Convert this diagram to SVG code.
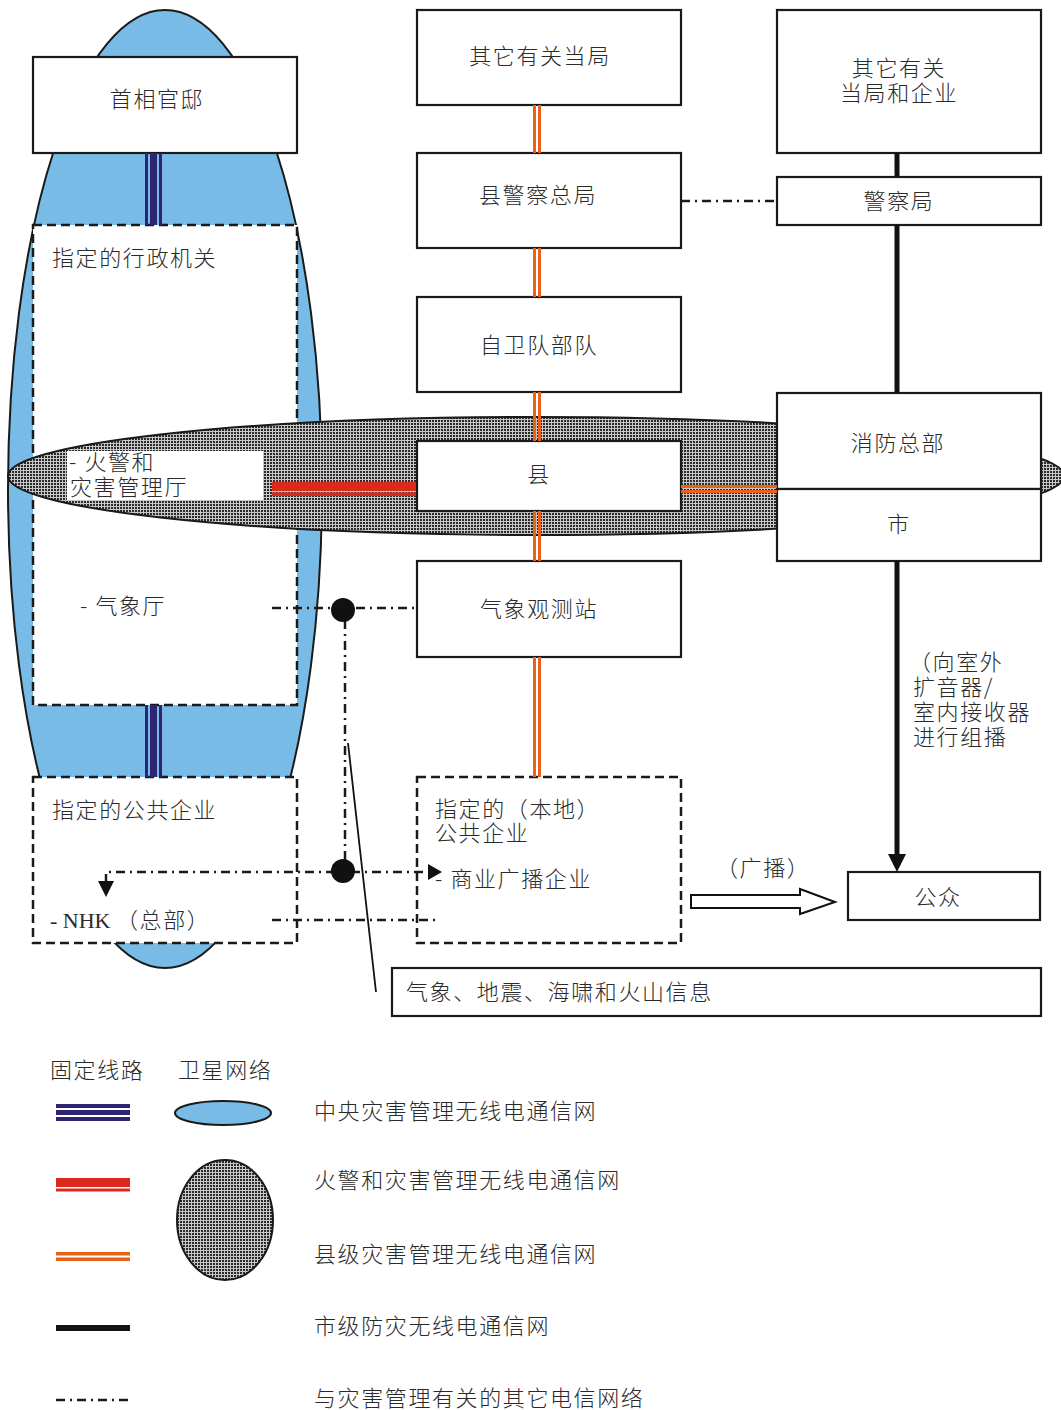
<svg xmlns="http://www.w3.org/2000/svg" width="1061" height="1410" viewBox="0 0 1061 1410">
<defs>
<pattern id="dots" width="3" height="3" patternUnits="userSpaceOnUse">
<rect width="3" height="3" fill="#c8c8c8"/>
<rect width="2" height="2" fill="#2a2a2a"/>
</pattern>
<style>
.t{font-family:"Noto Sans CJK SC","Noto Sans",sans-serif;font-size:22px;font-weight:300;fill:#2a2a2a;letter-spacing:1.6px}
.m{text-anchor:middle}
.box{fill:#fff;stroke:#1a1a1a;stroke-width:2.2}
.dbox{fill:#fff;stroke:#1a1a1a;stroke-width:2.5;stroke-dasharray:9,5}
.dd{fill:none;stroke:#1a1a1a;stroke-width:2.5;stroke-dasharray:9,5,2,5}
.blk{stroke:#111;stroke-width:5;fill:none}
.dk{fill:#2e2474}
.rd{fill:#da2a1e}
.or{fill:#e8621a}
.ser{font-family:"Liberation Serif",serif;letter-spacing:0}
</style>
</defs>
<rect width="1061" height="1410" fill="#fff"/>
<g id="central-network">
<ellipse cx="165" cy="489" rx="157" ry="479" fill="#78bbe6" stroke="#1a1a1a" stroke-width="2"/>
</g>
<g id="node-designated-admin">
<rect class="dbox" x="33" y="225" width="264" height="480"/>
<text class="t" x="52" y="266">指定的行政机关</text>
<text class="t" x="80" y="614">- 气象厅</text>
</g>
<g id="node-designated-public">
<rect class="dbox" x="33" y="777" width="264" height="166"/>
<text class="t" x="52" y="818">指定的公共企业</text>
<text class="t" x="50" y="928"><tspan class="ser">- NHK </tspan>（总部）</text>
</g>
<g id="fire-network">
<ellipse cx="536" cy="476" rx="528" ry="59" fill="url(#dots)" stroke="#1a1a1a" stroke-width="2"/>
</g>
<g id="node-fdma">
<rect x="67" y="451" width="196" height="49" fill="#fff"/>
<text class="t" x="69" y="470">- 火警和</text>
<text class="t" x="70" y="495">灾害管理厅</text>
</g>
<g id="node-pm-office">
<rect class="box" x="33" y="57" width="264" height="96"/>
<text class="t m" x="157" y="107">首相官邸</text>
</g>
<g id="node-other-authorities">
<rect class="box" x="417" y="10" width="264" height="95"/>
<text class="t m" x="540" y="64">其它有关当局</text>
</g>
<g id="node-pref-police">
<rect class="box" x="417" y="153" width="264" height="95"/>
<text class="t m" x="538" y="203">县警察总局</text>
</g>
<g id="node-sdf">
<rect class="box" x="417" y="297" width="264" height="95"/>
<text class="t m" x="539" y="353">自卫队部队</text>
</g>
<g id="node-prefecture">
<rect class="box" x="417" y="441" width="264" height="70"/>
<text class="t m" x="539" y="482">县</text>
</g>
<g id="node-weather-station">
<rect class="box" x="417" y="561" width="264" height="96"/>
<text class="t m" x="539" y="617">气象观测站</text>
</g>
<g id="node-local-public">
<rect class="dbox" x="417" y="777" width="264" height="166"/>
<text class="t" x="435" y="817">指定的（本地）</text>
<text class="t" x="435" y="841">公共企业</text>
<text class="t" x="435" y="887">- 商业广播企业</text>
</g>
<g id="node-other-auth-ent">
<rect class="box" x="777" y="10" width="264" height="143"/>
<text class="t m" x="899" y="76">其它有关</text>
<text class="t m" x="899" y="101">当局和企业</text>
</g>
<g id="node-police">
<rect class="box" x="777" y="177" width="264" height="48"/>
<text class="t m" x="899" y="209">警察局</text>
</g>
<g id="node-fire-hq">
<rect class="box" x="777" y="393" width="264" height="96"/>
<text class="t m" x="898" y="451">消防总部</text>
</g>
<g id="node-city">
<rect class="box" x="777" y="489" width="264" height="72"/>
<text class="t m" x="899" y="532">市</text>
</g>
<g id="node-public">
<rect class="box" x="848" y="872" width="192" height="48"/>
<text class="t m" x="938" y="905">公众</text>
</g>
<g id="node-info">
<rect class="box" x="392" y="968" width="649" height="48"/>
<text class="t" x="406" y="1000">气象、地震、海啸和火山信息</text>
</g>
<g id="connectors">
<rect class="dk" x="145" y="153" width="3" height="72"/>
<rect class="dk" x="150" y="153" width="7" height="72"/>
<rect class="dk" x="159" y="153" width="3" height="72"/>
<rect class="dk" x="145" y="705" width="3" height="72"/>
<rect class="dk" x="150" y="705" width="7" height="72"/>
<rect class="dk" x="159" y="705" width="3" height="72"/>
<rect class="rd" x="272" y="482" width="144" height="9"/>
<rect class="rd" x="272" y="492.5" width="144" height="3.5"/>
<rect class="or" x="533" y="105" width="3" height="48"/>
<rect class="or" x="538" y="105" width="3" height="48"/>
<rect class="or" x="533" y="248" width="3" height="49"/>
<rect class="or" x="538" y="248" width="3" height="49"/>
<rect class="or" x="533" y="392" width="3" height="49"/>
<rect class="or" x="538" y="392" width="3" height="49"/>
<rect class="or" x="533" y="511" width="3" height="50"/>
<rect class="or" x="538" y="511" width="3" height="50"/>
<rect class="or" x="533" y="657" width="3" height="120"/>
<rect class="or" x="538" y="657" width="3" height="120"/>
<rect class="or" x="681" y="485" width="96" height="3"/>
<rect class="or" x="681" y="490" width="96" height="3"/>
<line class="blk" x1="897" y1="153" x2="897" y2="177"/>
<line class="blk" x1="897" y1="225" x2="897" y2="393"/>
<line class="blk" x1="897" y1="561" x2="897" y2="856"/>
<polygon points="888,854 906,854 897,872" fill="#111"/>
<path class="dd" d="M681,201 H777"/>
<path class="dd" d="M272,608 H416"/>
<path class="dd" d="M345,620 V860"/>
<path class="dd" d="M330,872 H430"/>
<polygon points="428,864 442,872 428,880" fill="#111"/>
<path class="dd" d="M335,872 H106 V884"/>
<polygon points="98,881 114,881 106,897" fill="#111"/>
<path class="dd" d="M272,920 H435"/>
<circle cx="343" cy="610" r="12" fill="#111"/>
<circle cx="343" cy="871" r="12" fill="#111"/>
<line x1="348" y1="743" x2="376" y2="992" stroke="#111" stroke-width="1.8"/>
<polygon points="691,895 800,895 800,889 835,902 800,914 800,908 691,908" fill="#fff" stroke="#111" stroke-width="2"/>
<text class="t" x="716" y="876">（广播）</text>
<text class="t" x="909" y="670">（向室外</text>
<text class="t" x="913" y="695">扩音器/</text>
<text class="t" x="913" y="720">室内接收器</text>
<text class="t" x="913" y="745">进行组播</text>
</g>
<g id="legend">
<text class="t" x="50" y="1078">固定线路</text>
<text class="t" x="178" y="1078">卫星网络</text>
<rect class="dk" x="56" y="1104" width="74" height="4"/>
<rect class="dk" x="56" y="1110" width="74" height="5"/>
<rect class="dk" x="56" y="1117" width="74" height="4"/>
<ellipse cx="223" cy="1113" rx="48" ry="12" fill="#78bbe6" stroke="#1a1a1a" stroke-width="2"/>
<text class="t" x="314" y="1119">中央灾害管理无线电通信网</text>
<rect class="rd" x="56" y="1178" width="74" height="9"/>
<rect class="rd" x="56" y="1188.5" width="74" height="3"/>
<ellipse cx="225" cy="1220" rx="48" ry="60" fill="url(#dots)" stroke="#1a1a1a" stroke-width="2"/>
<text class="t" x="314" y="1188">火警和灾害管理无线电通信网</text>
<rect class="or" x="56" y="1252" width="74" height="3.5"/>
<rect class="or" x="56" y="1257.5" width="74" height="3.5"/>
<text class="t" x="314" y="1262">县级灾害管理无线电通信网</text>
<rect x="56" y="1325" width="74" height="6" fill="#111"/>
<text class="t" x="314" y="1334">市级防灾无线电通信网</text>
<path class="dd" d="M56,1400 H130"/>
<text class="t" x="314" y="1406">与灾害管理有关的其它电信网络</text>
</g>
</svg>
